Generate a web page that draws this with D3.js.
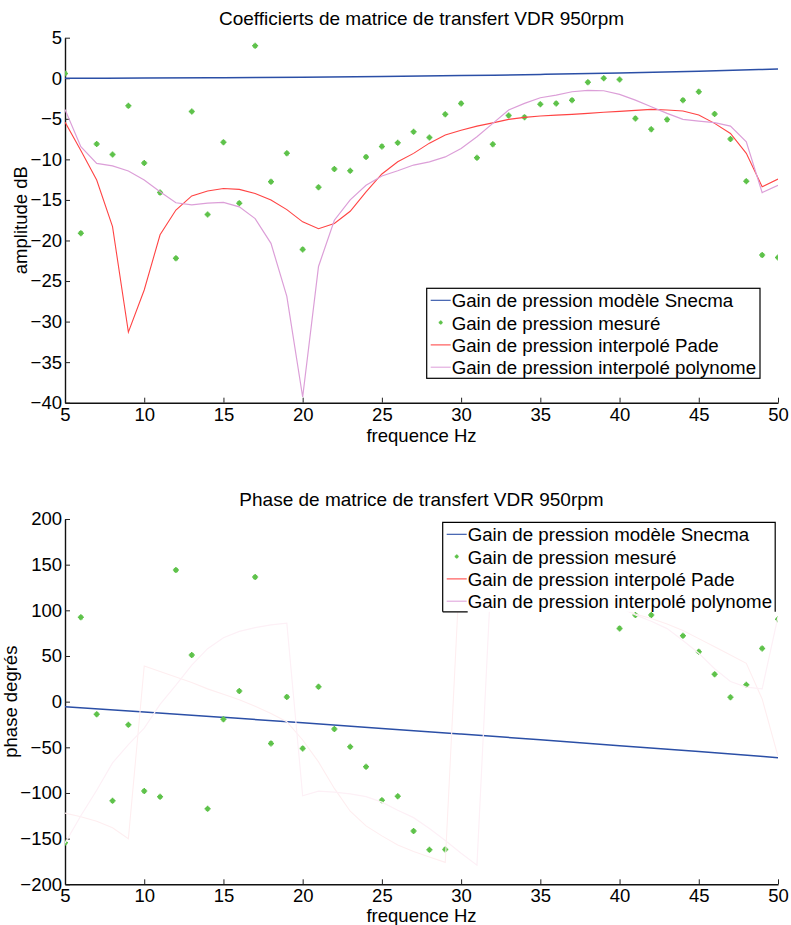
<!DOCTYPE html>
<html>
<head>
<meta charset="utf-8">
<script src="https://cdn.jsdelivr.net/npm/d3@7"></script>
<style>
  body { margin: 0; background: #fff; }
  svg text { font-family: "Liberation Sans", Arial, Helvetica, sans-serif; fill: #000; }
</style>
</head>
<body>
<svg id="chart" width="791" height="925"></svg>
<script>
// ---------------- DATA ----------------
const frequencies = [5,6,7,8,9,10,11,12,13,14,15,16,17,18,19,20,21,22,23,24,25,26,27,28,29,30,31,32,33,34,35,36,37,38,39,40,41,42,43,44,45,46,47,48,49,50];
const modelFrequencies = [5,10,15,20,25,30,35,40,45,50];
const xTickValues = [5,10,15,20,25,30,35,40,45,50];
const amplitudeTicks = [-40,-35,-30,-25,-20,-15,-10,-5,0,5];
const phaseTicks = [-200,-150,-100,-50,0,50,100,150,200];

// Amplitude (dB)
const ampModel = [0.0,0.03,0.07,0.13,0.22,0.33,0.47,0.65,0.87,1.13];
const ampMeasured = [0.6,-19.1,-8.1,-9.4,-3.4,-10.45,-14.1,-22.2,-4.1,-16.8,-7.9,-15.4,4.0,-12.75,-9.26,-21.1,-13.45,-11.2,-11.4,-9.7,-8.4,-7.95,-6.6,-7.3,-4.45,-3.1,-9.8,-8.15,-4.6,-4.8,-3.2,-3.1,-2.7,-0.5,0.0,-0.15,-4.95,-6.3,-5.1,-2.7,-1.65,-4.4,-7.5,-12.7,-21.8,-22.1];
const ampPade = [-5.4,-8.9,-12.55,-18.3,-31.3,-26.1,-19.3,-16.25,-14.5,-13.9,-13.6,-13.7,-14.2,-15.0,-16.2,-17.7,-18.55,-17.9,-16.4,-14.0,-11.8,-10.3,-9.26,-8.0,-7.0,-6.4,-5.9,-5.5,-5.07,-4.82,-4.66,-4.54,-4.45,-4.33,-4.2,-4.08,-3.96,-3.84,-3.92,-4.04,-4.54,-5.56,-6.8,-9.26,-13.37,-12.43];
const ampPoly = [-3.84,-8.44,-10.5,-10.8,-11.44,-12.55,-14.0,-15.35,-15.6,-15.4,-15.3,-15.85,-17.3,-20.35,-26.9,-39.3,-23.2,-17.5,-15.0,-13.2,-12.05,-11.4,-10.7,-10.3,-9.7,-8.65,-7.2,-5.56,-3.92,-3.1,-2.4,-2.07,-1.66,-1.5,-1.54,-1.99,-2.69,-3.51,-4.33,-5.07,-5.28,-5.48,-5.9,-7.83,-14.1,-13.2];

// Phase (degrees)
const phaseModel = [-5.6,-11.3,-17.2,-23.2,-29.3,-35.5,-41.8,-48.2,-54.7,-61.4];
const phaseMeasured = [-154.5,92.3,-13.9,-108.5,-25.3,-97.9,-104.1,144.1,51.0,-117.3,-19.4,11.6,136.4,-45.7,5.2,-51.2,16.4,-30,-49.4,-71.3,-108.1,-103.7,-141.7,-162.2,-161.8,null,null,null,null,null,null,null,null,null,null,80.2,94.8,94.8,null,72.2,54.7,29.9,4.7,18.5,58.3,90.1];
const phasePade = [-122,-126,-131,-138,-150,39,33,27,21,14,8,2,-5,-13,-22,-42,-66,-95,-120,-136,-147,-157,-164,-170,-176,174,167,160,152,145,138,130,122,115,108,102,96,91,85,78,69,60,51,42,3,-60];
const phasePoly = [-155,-125,-97,-67,-47,-29,-3,18,40,58,70,77,81,84,86,-103,-98,-99,-101,-104,-110,-119,-127,-139,-152,-166,-179,176,168,160,152,143,134,124,114,104,95,88,80,67,53,36,22,16,14,93];

const legendLabels = ["Gain de pression modèle Snecma","Gain de pression mesuré","Gain de pression interpolé Pade","Gain de pression interpolé polynome"];
const titles = ["Coefficierts de matrice de transfert VDR 950rpm","Phase de matrice de transfert VDR 950rpm"];
const xLabel = "frequence Hz";
const yLabels = ["amplitude dB","phase degrés"];

// ---------------- STYLE ----------------
const BLUE = "#2b4fa6", GREEN = "#5ec24a";
const svg = d3.select("#chart");

function starMarker(sel, size) {
  const s = size;
  return sel.append("path")
    .attr("d", `M${-s},0H${s}M0,${-s}V${s}M${-s*0.6},${-s*0.6}L${s*0.6},${s*0.6}M${-s*0.6},${s*0.6}L${s*0.6},${-s*0.6}`)
    .attr("stroke", GREEN).attr("stroke-width", 1.5).attr("fill", "none");
}

function panel(opt) {
  const x = d3.scaleLinear().domain([5,50]).range([65,778]);
  const y = d3.scaleLinear().domain(opt.domain).range(opt.range);
  const g = svg.append("g");
  const clipId = "clip" + opt.id;
  svg.append("clipPath").attr("id", clipId).append("rect")
    .attr("x", 65).attr("y", opt.range[1]).attr("width", 713).attr("height", opt.range[0]-opt.range[1]);

  // title
  g.append("text").attr("x", 421.5).attr("y", opt.titleY).attr("text-anchor","middle")
    .attr("font-size", 19).text(opt.title);

  // axes
  const ax = g.append("g").attr("transform", `translate(0,${opt.range[0]})`)
    .call(d3.axisBottom(x).tickValues(xTickValues).tickSizeInner(-5).tickSizeOuter(0).tickPadding(5).tickFormat(d3.format("d")));
  const ay = g.append("g").attr("transform", `translate(65,0)`)
    .call(d3.axisLeft(y).tickValues(opt.ticks).tickSizeInner(-5).tickSizeOuter(0).tickPadding(3).tickFormat(d3.format("d")));
  [ax, ay].forEach(a => {
    a.selectAll("text").attr("font-size", 18.5).attr("fill", "#000").style("font-family", '"Liberation Sans", Arial, sans-serif');
    a.select(".domain").attr("stroke", "#111").attr("stroke-width", 1.4);
    a.selectAll(".tick line").attr("stroke", "#222").attr("stroke-width", 1);
  });

  // axis labels
  g.append("text").attr("x", 421.5).attr("y", opt.xLabelY).attr("text-anchor","middle")
    .attr("font-size", 18.5).text(xLabel);
  g.append("text").attr("transform", `translate(${opt.yLabelX},${(opt.range[0]+opt.range[1])/2}) rotate(-90)`)
    .attr("text-anchor","middle").attr("font-size", 18.5).text(opt.yLabel);

  const plot = g.append("g").attr("clip-path", `url(#${clipId})`);
  const line = d3.line().defined(d => d[1] != null).x(d => x(d[0])).y(d => y(d[1]));

  // model line
  plot.append("path").datum(modelFrequencies.map((f,i)=>[f, opt.model[i]]))
    .attr("d", d3.line().curve(d3.curveMonotoneX).x(d=>x(d[0])).y(d=>y(d[1])))
    .attr("fill","none").attr("stroke", BLUE).attr("stroke-width", 1.5);
  // measured
  frequencies.forEach((f,i) => {
    const v = opt.measured[i];
    if (v == null) return;
    const m = starMarker(plot, 3);
    m.attr("transform", `translate(${x(f)},${y(v)})`);
  });
  // Pade & polynome
  plot.append("path").datum(frequencies.map((f,i)=>[f, opt.pade[i]]))
    .attr("d", line).attr("fill","none").attr("stroke", opt.padeColor).attr("stroke-width", 1.1);
  plot.append("path").datum(frequencies.map((f,i)=>[f, opt.poly[i]]))
    .attr("d", line).attr("fill","none").attr("stroke", opt.polyColor).attr("stroke-width", 1.2);

  // legend
  const L = opt.legend;
  const lg = g.append("g");
  lg.append("rect").attr("x", L.x).attr("y", L.y).attr("width", L.w).attr("height", L.h)
    .attr("fill", "#fff").attr("stroke", L.partialBottom ? "none" : "#000").attr("stroke-width", 1.2);
  if (L.partialBottom) {
    lg.append("path").attr("d", `M${L.x},${L.y+L.h}V${L.y}H${L.x+L.w}V${L.y+L.h}M${L.x},${L.y+L.h}H${L.x+25}`)
      .attr("fill","none").attr("stroke","#000").attr("stroke-width",1.2);
  }
  const legendColors = [BLUE, GREEN, "#ff4a4a", "#e0a6dc"];
  legendLabels.forEach((lab, i) => {
    const by = L.y + 19 + i*22.3;
    const ly = by - 7;
    if (i === 1) {
      starMarker(lg, 2.0).attr("transform", `translate(${L.x+14},${ly})`);
    } else {
      lg.append("line").attr("x1", L.x+4).attr("x2", L.x+24).attr("y1", ly).attr("y2", ly)
        .attr("stroke", legendColors[i]).attr("stroke-width", 1.1);
    }
    lg.append("text").attr("x", L.x+25).attr("y", by).attr("font-size", 18.7).text(lab);
  });
}

panel({
  id: "A", domain: [-40,5], range: [402.7,37.7], ticks: amplitudeTicks,
  title: titles[0], titleY: 25, xLabelY: 442, yLabelX: 27, yLabel: yLabels[0],
  model: ampModel, measured: ampMeasured, pade: ampPade, poly: ampPoly,
  padeColor: "#ff4444", polyColor: "#dc9fd8",
  legend: { x: 426.7, y: 288.3, w: 333.3, h: 90, partialBottom: false }
});

panel({
  id: "B", domain: [-200,200], range: [884.3,519], ticks: phaseTicks,
  title: titles[1], titleY: 506, xLabelY: 922, yLabelX: 17, yLabel: yLabels[1],
  model: phaseModel, measured: phaseMeasured, pade: phasePade, poly: phasePoly,
  padeColor: "#feeef0", polyColor: "#fdf0f6",
  legend: { x: 442.7, y: 522.3, w: 332.5, h: 89.5, partialBottom: true }
});
</script>
</body>
</html>
